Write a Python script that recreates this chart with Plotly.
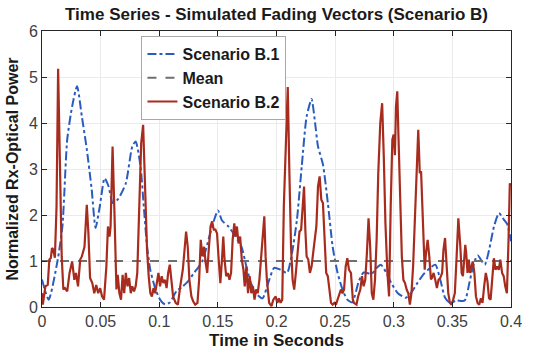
import numpy as np
import plotly.graph_objects as go

# ---- data (time in milliseconds, normalized power) ----
t_b1_ms = [0, 5.7, 13.2, 17.4, 21.5, 25.7, 29.9, 34, 38.2, 42.4, 45.7, 49.3, 53.4, 56.8, 60.4, 65,
           71.5, 77, 79.9, 84, 86.8, 89.6, 92.4, 96.5, 100.7, 104.9, 109, 114.6, 120.1, 124.3, 129.9,
           133, 136.8, 142.4, 146.5, 150.1, 153.5, 159, 164.6, 170.1, 174.3, 178.5, 184, 188.2, 192.4,
           198, 203.5, 209, 213.2, 217.4, 221.5, 225.7, 229.9, 232.6, 235.4, 239.6, 243.8, 247.9, 252.1,
           256.3, 260.4, 264.6, 270.1, 274.3, 281.25, 285.4, 289, 293.75, 297.9, 303.5, 310.4, 314.6,
           320.1, 325.7, 331, 335.5, 339.7, 343.8, 348, 353.5, 360.5, 364.7, 368.9, 371.8, 374.5, 377.7,
           381.3, 385.5, 389.7, 393.9, 396.8, 400]
v_b1 = [0.6, 0.16, 1.0, 1.75, 3.64, 4.36, 4.8, 4.14, 3.43, 2.55, 1.72, 2.19, 2.8, 2.62, 2.26, 2.35,
        2.69, 3.49, 3.6, 3.06, 2.19, 1.32, 0.8, 0.41, 0.16, 0.06, 0.1, 0.34, 0.45, 0.55, 0.75,
        0.85, 1.0, 1.5, 1.87, 2.1, 1.88, 1.75, 1.55, 1.31, 0.88, 0.5, 0.26, 0.19, 0.48,
        0.85, 0.81, 0.74, 1.17, 1.89, 3.05, 4.14, 4.52, 4.07, 3.49, 3.1, 2.26, 1.31, 0.74,
        0.38, 0.16, 0.1, 0.55, 0.75, 0.72, 0.85, 0.92, 0.74, 0.52, 0.3, 0.2, 0.3,
        0.52, 0.72, 0.85, 0.92, 0.59, 0.2, 0.09, 0.14, 0.14, 0.55, 1.0, 1.12, 1.02, 0.92,
        1.24, 1.75, 2.04, 1.9, 1.8, 1.43]

t_b2_ms = [0, 0.7, 2.9, 4.9, 6.25, 7.6, 8.5, 9.6, 11, 12.4, 13.75, 15.1, 16.8, 18.2, 19.6, 21.5,
           23.5, 25.7, 27.6, 29, 30.7, 32.6, 34, 36.25, 38.2, 39.6, 41, 42.9, 44.6, 46.25, 47.9,
           49.6, 51.25, 52.9, 54.9, 56.25, 57.6, 58.5, 60.2, 61.8, 63.5, 64.6, 66, 67.4, 68.75,
           70.1, 71.5, 72.9, 74.3, 75.7, 77, 78.5, 79.9, 81.25, 82.9, 84.6, 86.25, 87.9, 89.6,
           91, 92.4, 93.75, 95.1, 96.5, 97.9, 99.3, 100.7, 102.1, 103.5, 104.9, 106.25, 107.6,
           109, 110.4, 111.8, 114, 115.9, 117.9, 120.1, 121.8, 122.9, 124.3, 125.7, 127.4, 129,
           130.7, 132.6, 134, 135.4, 136.8, 138.2, 139.6, 140.9, 142.4, 143.75, 145.1, 146.5,
           147.9, 149.3, 150.7, 152.1, 153.5, 154.6, 155.7, 157.1, 158.5, 159.9, 161.25, 162.6,
           164, 165.1, 166.25, 167.6, 169, 170.4, 171.8, 172.9, 174.3, 175.7, 177.1, 178.5,
           179.9, 181.25, 182.6, 184, 185.4, 186.8, 188.2, 189.6, 190.7, 191.8, 193.75, 195.7,
           197.3, 199.3, 200.7, 202.1, 203.5, 204.9, 206.25, 207.9, 209.6, 211, 212.4, 213.75,
           215.1, 216.5, 217.9, 219.6, 221, 222.4, 223.5, 224.6, 225.7, 227.1, 228.5, 229.9,
           231.25, 232.6, 234, 235.4, 236.8, 238.2, 239.6, 240.9, 242.4, 243.75, 245.1, 246.5,
           247.9, 249.3, 250.7, 252.1, 253.5, 254.9, 256.25, 257.6, 259, 260.4, 261.8, 263.5,
           265.1, 266, 268.2, 269.6, 271.5, 272.9, 274.3, 275.7, 277.1, 278.5, 279.9, 281.25,
           282.6, 284, 285.4, 286.8, 288.5, 290.1, 291.5, 292.9, 294.6, 296, 297.4, 298.8,
           299.9, 301, 301.9, 303, 304.1, 305.5, 306.9, 308.2, 309.6, 311, 312.4, 313.75,
           315.1, 316.5, 317.9, 319.2, 320.9, 322.2, 323.3, 324.4, 325.4, 326.4, 327.5, 328.9,
           330.3, 331.7, 332.6, 334, 335.4, 336.8, 338.2, 339.6, 341.25, 342.4, 343.75, 345.1,
           346.5, 347.9, 349.3, 350.7, 352.1, 353.5, 355.1, 356.8, 357.9, 359, 360.1, 361,
           361.8, 362.9, 364, 365.1, 366.25, 367.4, 368.75, 370.1, 371.5, 372.9, 374.3, 375.7,
           377.1, 378.5, 379.9, 381.25, 382.6, 384, 385.4, 386.8, 388.2, 389.6, 390.9, 392.4,
           393.75, 395.1, 396.5, 397.9, 399, 400]
v_b2 = [0.3, 0.05, 0.45, 0.48, 1.03, 1.07, 1.28, 1.25, 1.07, 2.19, 5.18, 3.64, 1.1, 0.38, 0.41, 0.34,
        0.74, 0.99, 0.59, 0.74, 0.45, 1.03, 1.1, 1.31, 2.22, 1.6, 0.63, 0.52, 0.3, 0.48, 0.3,
        0.41, 0.23, 0.16, 0.88, 1.75, 1.53, 1.75, 3.49, 2.04, 0.38, 0.7, 0.3, 0.16, 0.7,
        0.3, 0.74, 0.45, 0.63, 0.3, 0.45, 0.34, 0.45, 0.74, 2.33, 3.56, 3.96, 2.62, 1.24,
        0.67, 0.3, 0.23, 0.41, 0.3, 0.52, 0.74, 0.45, 0.67, 0.52, 0.59, 0.41, 0.74,
        0.92, 0.59, 0.23, 0.09, 0.05, 0.45, 0.81, 1.31, 1.64, 1.31, 0.59, 0.23, 0.12,
        0.05, 0.09, 0.59, 1.46, 1.1, 1.31, 0.96, 0.74, 1.31, 1.75, 1.86, 1.68,
        1.68, 1.6, 1.03, 0.52, 1.03, 1.53, 1.03, 0.67, 0.74, 0.59, 0.74, 1.46,
        1.82, 1.53, 1.75, 1.38, 1.53, 1.03, 0.81, 0.45, 0.88, 0.3, 0.67, 0.3,
        0.45, 0.16, 0.38, 0.3, 0.59, 1.03, 1.46, 1.97, 1.1, 0.59, 0.09, 0.02,
        0.16, 0.23, 0.09, 0.19, 0.09, 0.16, 2.19, 3.64, 4.78, 2.91, 1.31, 0.59,
        0.38, 0.74, 1.24, 1.64, 1.68, 2.33, 2.62, 1.68, 1.1, 1.03, 0.74, 0.88,
        1.24, 1.46, 1.75, 2.62, 2.84, 2.33, 2.26, 1.6, 0.74, 0.67, 0.3, 0.09,
        0.05, 0.09, 0.05, 0.16, 0.3, 0.38, 0.3, 0.38, 0.88, 1.06, 0.81, 0.74,
        0.16, 0.09, 0.05, 0.23, 0.38, 0.67, 0.45, 0.59, 1.17, 1.93, 1.31, 0.3,
        0.16, 0.59, 1.46, 2.91, 4.0, 4.43, 3.27, 1.82, 0.74, 0.23, 2.19, 3.64,
        3.75, 3.3, 4.36, 4.69, 3.64, 2.19, 1.1, 0.59, 0.52, 0.38, 0.3, 0.05,
        0.3, 0.88, 1.75, 2.91, 3.85, 2.91, 2.95, 2.19, 1.31, 0.81, 1.17, 1.46,
        1.1, 0.6, 0.63, 0.74, 0.59, 0.41, 0.59, 0.63, 0.74, 1.24, 1.5, 0.88,
        0.3, 0.09, 0.05, 0.16, 0.3, 1.03, 1.93, 1.31, 0.74, 0.67, 1.03, 1.35,
        1.17, 0.74, 1.03, 0.74, 0.88, 0.99, 0.74, 0.23, 0.09, 0.05, 0.19, 0.09,
        0.45, 0.74, 0.56, 0.19, 0.16, 0.67, 1.06, 0.81, 0.88, 0.81, 1.03, 0.74,
        0.67, 0.45, 0.3, 1.46, 2.69, 2.62]

mean_t = [0.0, 0.4]
mean_v = [1.0, 1.0]

x_ticks = [0, 0.05, 0.1, 0.15, 0.2, 0.25, 0.3, 0.35, 0.4]
x_ticklabels = ["0", "0.05", "0.1", "0.15", "0.2", "0.25", "0.3", "0.35", "0.4"]
y_ticks = [0, 1, 2, 3, 4, 5, 6]

FONT = "Liberation Sans, Arial, sans-serif"

fig = go.Figure()
fig.add_trace(go.Scatter(x=np.array(t_b1_ms) / 1000.0, y=v_b1, mode="lines", name="<b>Scenario B.1</b>",
                         line=dict(color="#2a5cbf", width=2, dash="dashdot", shape="spline", smoothing=0.6)))
fig.add_trace(go.Scatter(x=mean_t, y=mean_v, mode="lines", name="<b>Mean</b>",
                         line=dict(color="#6f6f6f", width=2, dash="dash")))
fig.add_trace(go.Scatter(x=np.array(t_b2_ms) / 1000.0, y=v_b2, mode="lines", name="<b>Scenario B.2</b>",
                         line=dict(color="#a82c1e", width=2.2)))

axis_common = dict(showline=True, linecolor="#262626", linewidth=1, mirror="ticks",
                   ticks="inside", ticklen=5, tickcolor="#262626",
                   showgrid=True, gridcolor="#ebebeb", gridwidth=1, zeroline=False,
                   tickfont=dict(family=FONT, size=16, color="#404040"))

fig.update_layout(
    width=534, height=358,
    margin=dict(l=40, r=13, t=31, b=51),
    paper_bgcolor="white", plot_bgcolor="white",
    title=dict(text="<b>Time Series - Simulated Fading Vectors (Scenario B)</b>",
               x=0.5, xref="paper", y=1 - 14 / 358, yanchor="middle",
               font=dict(family=FONT, size=17, color="#1a1a1a")),
    xaxis=dict(range=[0, 0.4], tickvals=x_ticks, ticktext=x_ticklabels,
               title=dict(text="<b>Time in Seconds</b>", standoff=4,
                          font=dict(family=FONT, size=17, color="#1a1a1a")),
               **axis_common),
    yaxis=dict(range=[0, 6], tickvals=y_ticks,
               title=dict(text="<b>Normalized Rx-Optical Power</b>", standoff=6,
                          font=dict(family=FONT, size=16, color="#1a1a1a")),
               **axis_common),
    legend=dict(x=(142 - 40) / 481, y=1 - (36 - 31) / 276, xanchor="left", yanchor="top",
                bgcolor="white", bordercolor="#a8a8a8", borderwidth=1,
                font=dict(family=FONT, size=16, color="#1a1a1a"),
                itemwidth=30, tracegroupgap=0),
    showlegend=True,
)

fig.write_html("out.html")
